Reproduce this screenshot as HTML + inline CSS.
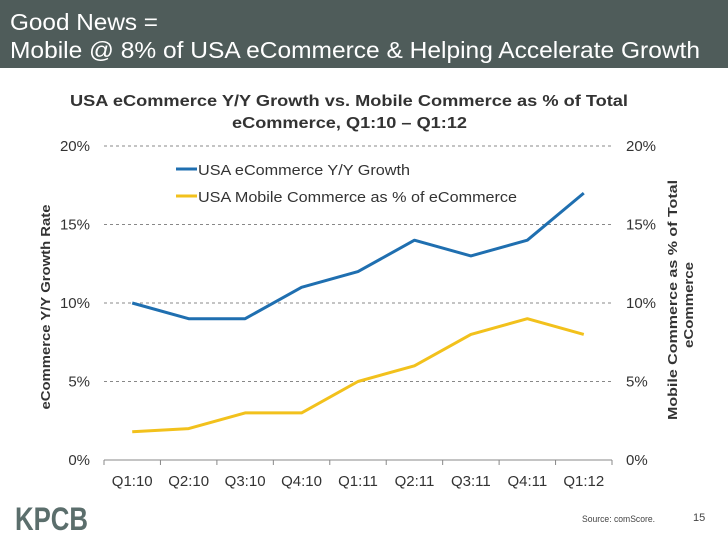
<!DOCTYPE html>
<html><head><meta charset="utf-8"><style>
body{margin:0;width:728px;height:546px;background:#fff;overflow:hidden;font-family:"Liberation Sans",sans-serif}
#hdr{position:absolute;left:0;top:0;width:728px;height:68px;background:#4f5c5a}
</style></head><body>
<div id="hdr"></div>
<svg id="c" width="728" height="546" style="position:absolute;left:0;top:0">
<text x="10" y="30" font-size="23" fill="#fff" textLength="148" lengthAdjust="spacingAndGlyphs">Good News =</text>
<text x="10" y="58" font-size="23" fill="#fff" textLength="690" lengthAdjust="spacingAndGlyphs">Mobile @ 8% of USA eCommerce &amp; Helping Accelerate Growth</text>
</svg>
<script>
const categories=["Q1:10","Q2:10","Q3:10","Q4:10","Q1:11","Q2:11","Q3:11","Q4:11","Q1:12"];
const growthValues=[10,9,9,11,12,14,13,14,17];
const mobileValues=[1.8,2.0,3.0,3.0,5.0,6.0,8.0,9.0,8.0];
const yTicks=[0,5,10,15,20];
const yTickLabels=["0%","5%","10%","15%","20%"];
const svg=document.getElementById('c');const NS="http://www.w3.org/2000/svg";
function mk(t,a,txt){const e=document.createElementNS(NS,t);for(const k in a)e.setAttribute(k,a[k]);if(txt!=null)e.textContent=txt;svg.appendChild(e);return e;}
const x0=104,x1=612,yB=460,yT=146;
const step=(x1-x0)/categories.length;
function xs(i){return x0+step*(i+0.5);}
function ys(v){return yB-(v/20)*(yB-yT);}
let e;
e=mk('text',{x:70,y:106,'font-size':16,'font-weight':'bold',fill:'#333',textLength:558,lengthAdjust:'spacingAndGlyphs'},'USA eCommerce Y/Y Growth vs. Mobile Commerce as % of Total');

e=mk('text',{x:232,y:128,'font-size':16,'font-weight':'bold',fill:'#333',textLength:235,lengthAdjust:'spacingAndGlyphs'},'eCommerce, Q1:10 – Q1:12');

yTicks.forEach((t,i)=>{const y=ys(t);
 if(t>0){e=mk('line',{x1:x0,x2:x1,y1:y,y2:y,stroke:'#888','stroke-dasharray':'3,3','stroke-width':1});}
 e=mk('text',{x:90,y:y+5,'text-anchor':'end','font-size':15,fill:'#333'},yTickLabels[i]);
 e=mk('text',{x:626,y:y+5,'font-size':15,fill:'#333'},yTickLabels[i]);
});
e=mk('line',{x1:x0,x2:x1,y1:yB,y2:yB,stroke:'#888','stroke-width':1});
for(let i=0;i<=categories.length;i++){e=mk('line',{x1:x0+step*i,x2:x0+step*i,y1:yB,y2:yB+5,stroke:'#888'});}
categories.forEach((c,i)=>{e=mk('text',{x:xs(i),y:486,'text-anchor':'middle','font-size':15,fill:'#333'},c);});
function line(vals,col,name){e=mk('polyline',{points:vals.map((v,i)=>xs(i)+','+ys(v)).join(' '),fill:'none',stroke:col,'stroke-width':3,'stroke-linejoin':'round'});}
line(growthValues,'#1f6fb0','growth-line');
line(mobileValues,'#f2c11c','mobile-line');
e=mk('line',{x1:176,x2:197,y1:169,y2:169,stroke:'#1f6fb0','stroke-width':3});
e=mk('text',{x:198,y:175,'font-size':15,fill:'#333',textLength:212,lengthAdjust:'spacingAndGlyphs'},'USA eCommerce Y/Y Growth');
e=mk('line',{x1:176,x2:197,y1:196,y2:196,stroke:'#f2c11c','stroke-width':3});
e=mk('text',{x:198,y:202,'font-size':15,fill:'#333',textLength:319,lengthAdjust:'spacingAndGlyphs'},'USA Mobile Commerce as % of eCommerce');
e=mk('text',{transform:'translate(50,307) rotate(-90)','text-anchor':'middle','font-size':13,'font-weight':'bold',fill:'#333',textLength:205,lengthAdjust:'spacingAndGlyphs'},'eCommerce Y/Y Growth Rate');
e=mk('text',{transform:'translate(677,300) rotate(-90)','text-anchor':'middle','font-size':13,'font-weight':'bold',fill:'#333',textLength:240,lengthAdjust:'spacingAndGlyphs'},'Mobile Commerce as % of Total');
e=mk('text',{transform:'translate(693,305) rotate(-90)','text-anchor':'middle','font-size':13,'font-weight':'bold',fill:'#333',textLength:86,lengthAdjust:'spacingAndGlyphs'},'eCommerce');
e=mk('text',{x:15,y:530,'font-size':32,'font-weight':'bold',fill:'#5b6e6c','textLength':73,'lengthAdjust':'spacingAndGlyphs'},'KPCB');
e=mk('text',{x:582,y:522,'font-size':9,fill:'#444',textLength:73,lengthAdjust:'spacingAndGlyphs'},'Source: comScore.');
e=mk('text',{x:693,y:521,'font-size':11,fill:'#444'},'15');
</script>
</body></html>
